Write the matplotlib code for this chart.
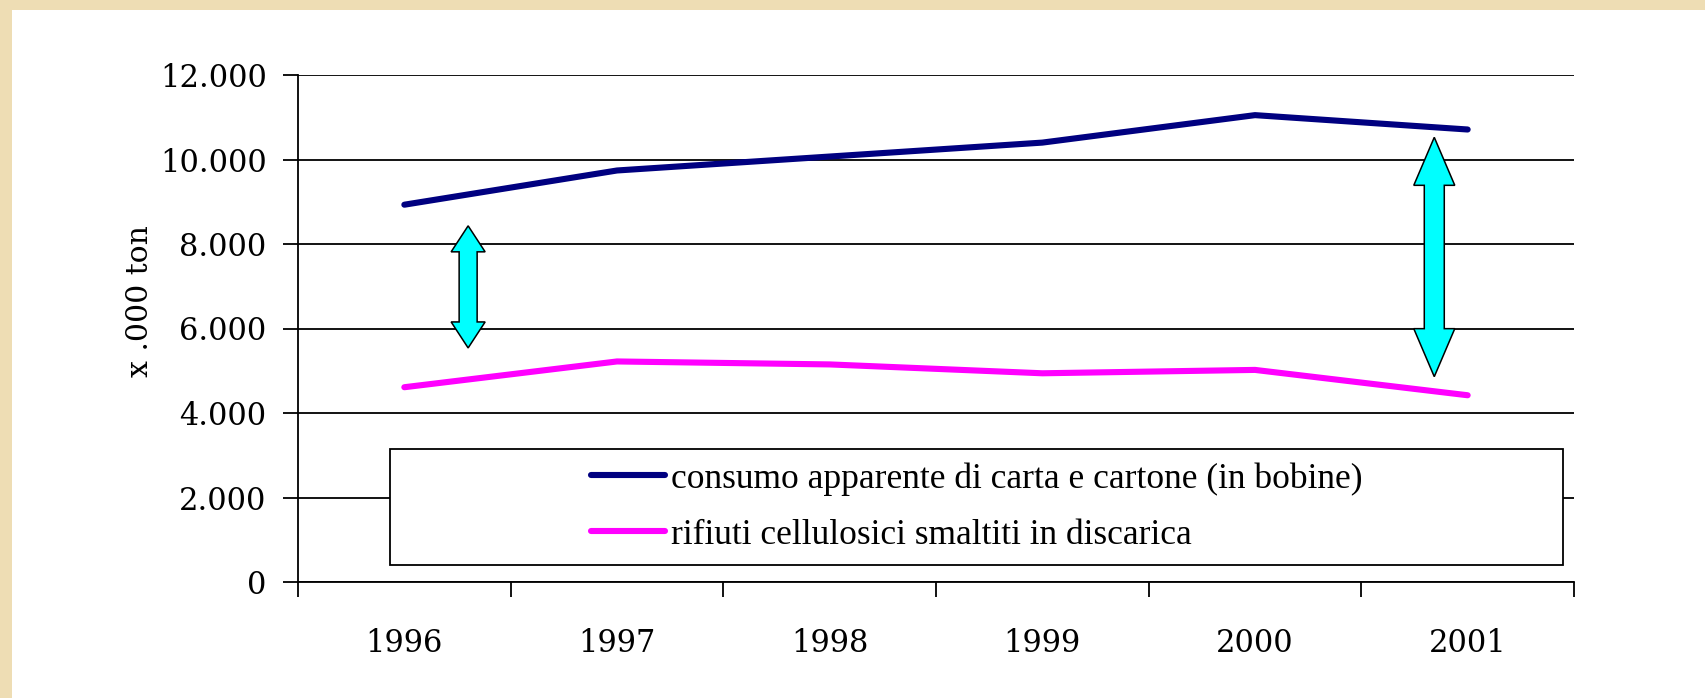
import matplotlib
matplotlib.use("Agg")
import matplotlib.pyplot as plt
from matplotlib.patches import Rectangle, Polygon
from matplotlib.transforms import IdentityTransform

# data (thousands of tonnes)
years = ["1996", "1997", "1998", "1999", "2000", "2001"]
consumo = [8930, 9740, 10070, 10400, 11050, 10710]
rifiuti = [4610, 5220, 5150, 4940, 5020, 4420]
labels = ["consumo apparente di carta e cartone (in bobine)",
          "rifiuti cellulosici smaltiti in discarica"]
yticks = [0, 2000, 4000, 6000, 8000, 10000, 12000]
ytick_labels = ["0", "2.000", "4.000", "6.000", "8.000", "10.000", "12.000"]

fig = plt.figure(figsize=(17.06, 6.98), dpi=100, facecolor="#EEDDB4")
# white slide panel
fig.patches.append(Rectangle((12 / 1706, 0), 1, 1 - 10 / 698, transform=fig.transFigure,
                             facecolor="white", edgecolor="none", zorder=-10))

ax = fig.add_axes([298 / 1706, 1 - 582 / 698, 1276 / 1706, 507 / 698])
ax.set_facecolor("none")

x = [i + 0.5 for i in range(len(years))]
l1, = ax.plot(x, consumo, color="#000080", lw=4.4, solid_capstyle="round", zorder=4)
l2, = ax.plot(x, rifiuti, color="#FF00FF", lw=4.4, solid_capstyle="round", zorder=4)

ax.set_xlim(0, len(years))
ax.set_ylim(0, 12000)
ax.set_yticks(yticks)
ax.set_yticklabels(ytick_labels)
ax.set_xticks(range(len(years) + 1))
ax.set_xticklabels([])
ax.set_xticks(x, minor=True)
ax.set_xticklabels(years, minor=True)
ax.tick_params(axis="x", which="minor", length=0, pad=33)
ax.tick_params(axis="x", which="major", length=11, width=1.3, direction="out")
ax.tick_params(axis="y", length=11, width=1.3, pad=11.5)
for lab in ax.get_xticklabels(minor=True) + ax.get_yticklabels():
    lab.set_fontfamily("DejaVu Serif")
    lab.set_fontsize(22)

ax.grid(axis="y", color="black", lw=1.3, zorder=1)
ax.spines["top"].set_visible(False)
ax.spines["right"].set_visible(False)
for s in ("left", "bottom"):
    ax.spines[s].set_linewidth(1.3)

fig.text(140 / 1706, 1 - 377 / 698, "x .000 ton", rotation=90, ha="center", va="bottom",
         family="DejaVu Serif", fontsize=21.5)

# legend box
ax.add_patch(Rectangle((0.0721, 0.0335), 0.9193, 0.2288, transform=ax.transAxes,
                       facecolor="white", edgecolor="black", lw=1.3, zorder=5))
leg = ax.legend([l1, l2], labels, loc="center", bbox_to_anchor=(0.5318, 0.148),
                frameon=False, prop={"family": "Liberation Serif", "size": 25.5},
                handlelength=2.1, handletextpad=0.15, labelspacing=0.65, borderpad=0)
leg.set_zorder(6)


# double-headed cyan arrows between the two series
def double_arrow(xc, y_top, y_bot, shaft, head, head_len):
    fig.canvas.draw()
    cx, ty = ax.transData.transform((xc, y_top))
    _, by = ax.transData.transform((xc, y_bot))
    pts = [(cx, ty), (cx + head, ty - head_len), (cx + shaft, ty - head_len),
           (cx + shaft, by + head_len), (cx + head, by + head_len), (cx, by),
           (cx - head, by + head_len), (cx - shaft, by + head_len),
           (cx - shaft, ty - head_len), (cx - head, ty - head_len)]
    fig.patches.append(Polygon(pts, closed=True, transform=IdentityTransform(),
                               facecolor="#00FFFF", edgecolor="black", lw=1.1, zorder=7))


double_arrow(0.80, 8430, 5540, 9, 17, 26)
double_arrow(5.343, 10525, 4860, 10, 20.5, 48)

fig.savefig("out.png", dpi=100, facecolor=fig.get_facecolor())
